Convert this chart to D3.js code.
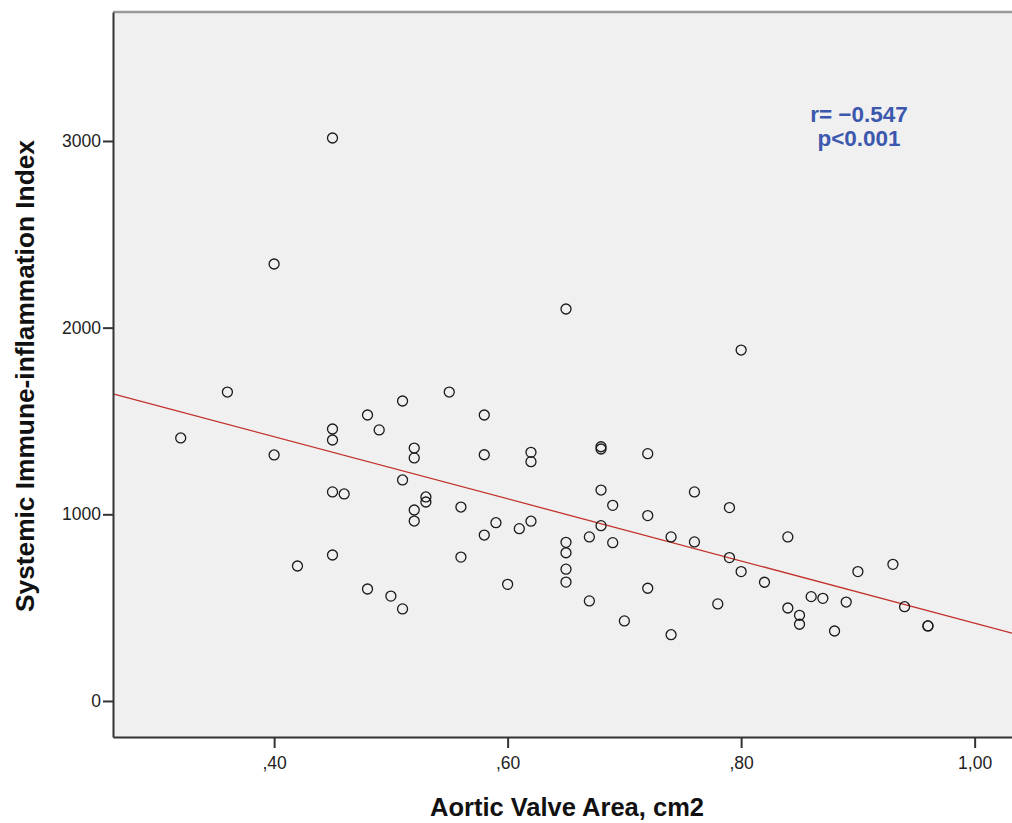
<!DOCTYPE html>
<html>
<head>
<meta charset="utf-8">
<script src="https://cdn.jsdelivr.net/npm/d3@7/dist/d3.min.js"></script>
<style>
  html, body { margin: 0; padding: 0; background: #ffffff; }
  svg { display: block; }
  text { font-family: "Liberation Sans", Arial, sans-serif; }
</style>
</head>
<body>
<svg id="chart" width="1012" height="823"></svg>
<script>
// ---- data ----
const avaValues = [
  0.32, 0.36, 0.40, 0.40, 0.42, 0.45, 0.45, 0.45, 0.45, 0.46, 0.45,
  0.48, 0.48, 0.49, 0.50, 0.51, 0.51, 0.51, 0.52, 0.52, 0.52, 0.52,
  0.53, 0.53, 0.55, 0.56, 0.56, 0.58, 0.58, 0.58, 0.59, 0.60, 0.61,
  0.62, 0.62, 0.62, 0.65, 0.65, 0.65, 0.65, 0.65, 0.67, 0.67, 0.68,
  0.68, 0.68, 0.68, 0.69, 0.69, 0.70, 0.72, 0.72, 0.72, 0.74, 0.74,
  0.76, 0.76, 0.78, 0.79, 0.79, 0.80, 0.80, 0.82, 0.84, 0.84, 0.85,
  0.85, 0.86, 0.87, 0.88, 0.89, 0.90, 0.93, 0.94, 0.96, 0.96
];
const siiValues = [
  1409, 1655, 1318, 2341, 723, 3016, 1457, 1398, 1120, 1109, 782,
  1532, 600, 1452, 562, 1607, 1184, 493, 1355, 1302, 1023, 964,
  1093, 1066, 1655, 1039, 771, 1532, 1319, 889, 955, 625, 923,
  1332, 1282, 963, 2100, 850, 794, 706, 637, 879, 536, 1362,
  1350, 1130, 939, 1048, 848, 429, 1325, 993, 604, 879, 355,
  1120, 852, 520, 1036, 768, 1880, 693, 636, 879, 498, 459,
  411, 559, 550, 375, 530, 693, 732, 505, 402, 402
];
const xTicks = [0.40, 0.60, 0.80, 1.00];
const xTickLabels = [",40", ",60", ",80", "1,00"];
const yTicks = [0, 1000, 2000, 3000];
const yTickLabels = ["0", "1000", "2000", "3000"];
const fitIntercept = 2082;   // fitted line
const fitSlope = -1665;
const annotationLines = ["r= \u22120.547", "p<0.001"];
const xTitle = "Aortic Valve Area, cm2";
const yTitle = "Systemic Immune-inflammation Index";

// ---- layout ----
const plot = { left: 113, top: 12, right: 1012, bottom: 737 };
const svg = d3.select("#chart");

const x = d3.scaleLinear().domain([0.262, 1.032]).range([plot.left, plot.right]);
const y = d3.scaleLinear().domain([-193, 3691]).range([plot.bottom, plot.top]);

// plot background
svg.append("rect")
  .attr("x", plot.left).attr("y", plot.top)
  .attr("width", plot.right - plot.left).attr("height", plot.bottom - plot.top)
  .attr("fill", "#f0f0f0");

// top frame line
svg.append("line")
  .attr("x1", plot.left).attr("x2", plot.right)
  .attr("y1", plot.top).attr("y2", plot.top)
  .attr("stroke", "#9a9a9a").attr("stroke-width", 2.5);

// regression line
const [d0, d1] = x.domain();
svg.append("line")
  .attr("x1", x(d0)).attr("y1", y(fitIntercept + fitSlope * d0))
  .attr("x2", x(d1)).attr("y2", y(fitIntercept + fitSlope * d1))
  .attr("stroke", "#c2312b").attr("stroke-width", 1.3);

// points
const pts = avaValues.map((v, i) => ({ ava: v, sii: siiValues[i] }));
svg.append("g").selectAll("circle").data(pts).join("circle")
  .attr("cx", d => x(d.ava)).attr("cy", d => y(d.sii))
  .attr("r", 5)
  .attr("fill", "none").attr("stroke", "#1a1a1a").attr("stroke-width", 1.3);

// axes
const xAxis = d3.axisBottom(x).tickValues(xTicks)
  .tickFormat((d, i) => xTickLabels[i]).tickSizeOuter(0).tickSizeInner(11).tickPadding(9);
const gx = svg.append("g").attr("transform", `translate(0,${plot.bottom})`).call(xAxis);
gx.select(".domain").attr("stroke", "#333").attr("stroke-width", 2);
gx.selectAll(".tick line").attr("stroke", "#333").attr("stroke-width", 2);
gx.selectAll(".tick text").attr("font-size", 17.5).attr("fill", "#222")
  .attr("font-family", "'Liberation Sans', Arial, sans-serif");

const yAxis = d3.axisLeft(y).tickValues(yTicks)
  .tickFormat((d, i) => yTickLabels[i]).tickSizeOuter(0).tickSizeInner(10).tickPadding(2);
const gy = svg.append("g").attr("transform", `translate(${plot.left},0)`).call(yAxis);
gy.select(".domain").attr("stroke", "#333").attr("stroke-width", 2);
gy.selectAll(".tick line").attr("stroke", "#333").attr("stroke-width", 2);
gy.selectAll(".tick text").attr("font-size", 17.5).attr("fill", "#222")
  .attr("font-family", "'Liberation Sans', Arial, sans-serif");

// axis titles
svg.append("text")
  .attr("x", 567).attr("y", 816)
  .attr("text-anchor", "middle")
  .attr("font-size", 25.5).attr("font-weight", "bold").attr("fill", "#111")
  .text(xTitle);

svg.append("text")
  .attr("transform", "translate(34,376) rotate(-90)")
  .attr("text-anchor", "middle")
  .attr("font-size", 26.3).attr("font-weight", "bold").attr("fill", "#111")
  .text(yTitle);

// annotation
svg.append("g").selectAll("text").data(annotationLines).join("text")
  .attr("x", 859).attr("y", (d, i) => 122 + i * 24)
  .attr("text-anchor", "middle")
  .attr("font-size", 22.5).attr("font-weight", "bold").attr("fill", "#3c57ae")
  .text(d => d);
</script>
</body>
</html>
